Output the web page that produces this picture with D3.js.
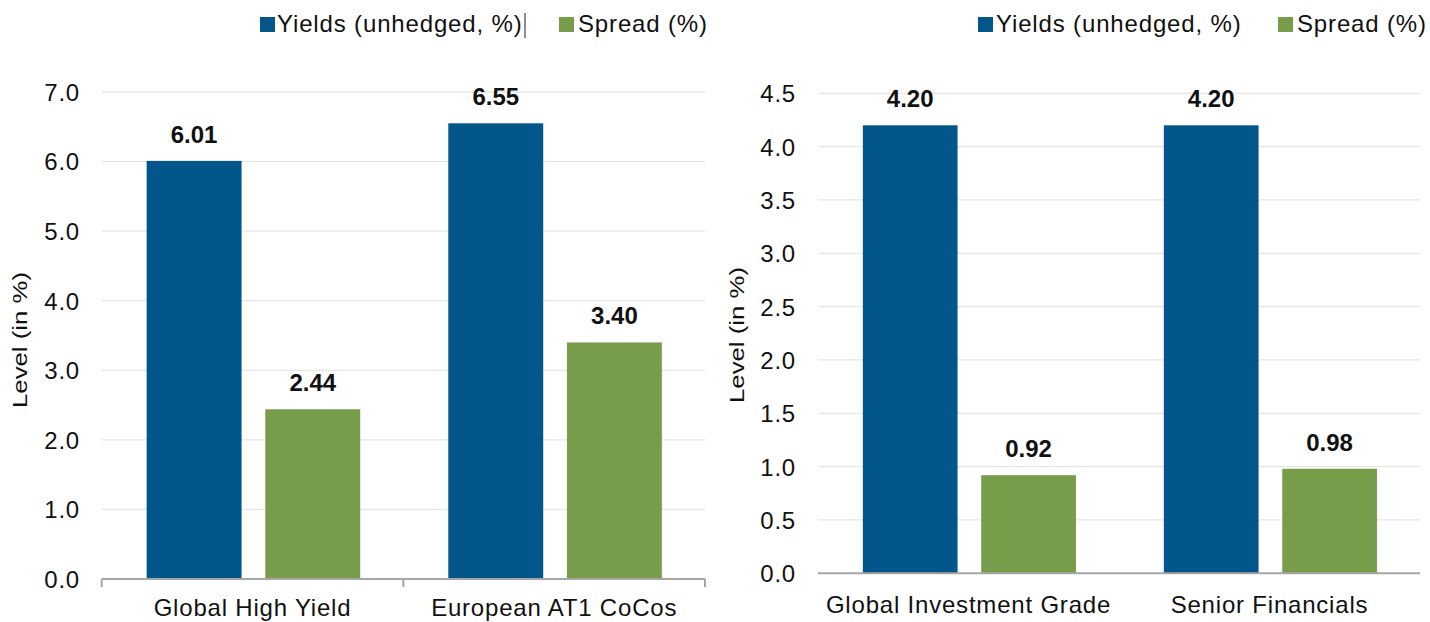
<!DOCTYPE html>
<html><head><meta charset="utf-8">
<script src="https://cdn.jsdelivr.net/npm/d3@7"></script>
<style>
html,body{margin:0;padding:0;background:#fff;}
svg{display:block;font-family:"Liberation Sans",Arial,sans-serif;}
</style></head>
<body>
<svg id="chart" width="1430" height="622"></svg>
<script>
const seriesNames = ["Yields (unhedged, %)", "Spread (%)"];
const seriesColors = ["#02568a", "#789d4a"];

const leftCategories = ["Global High Yield", "European AT1 CoCos"];
const leftYields = [6.01, 6.55];
const leftSpreads = [2.44, 3.40];
const leftTicks = [0, 1, 2, 3, 4, 5, 6, 7];

const rightCategories = ["Global Investment Grade", "Senior Financials"];
const rightYields = [4.20, 4.20];
const rightSpreads = [0.92, 0.98];
const rightTicks = [0, 0.5, 1, 1.5, 2, 2.5, 3, 3.5, 4, 4.5];

const yTitle = "Level (in %)";

const svg = d3.select("#chart");

function drawPanel(cfg) {
  const g = svg.append("g");
  const x0 = d3.scaleBand().domain(cfg.categories).range([cfg.x0, cfg.x1]).padding(0);
  const cw = x0.bandwidth();
  const x1 = d3.scaleBand().domain(seriesNames).range([cw * 0.149, cw * 0.857]).paddingInner(0.2).paddingOuter(0);
  const y = d3.scaleLinear().domain([0, d3.max(cfg.ticks)]).range([cfg.yBase, cfg.yTop]);

  // gridlines
  g.append("g").selectAll("line").data(cfg.ticks.filter(t => t > 0)).join("line")
    .attr("x1", cfg.x0).attr("x2", cfg.x1)
    .attr("y1", d => y(d)).attr("y2", d => y(d))
    .attr("stroke", "#e6e6e6").attr("stroke-width", 1.3);

  // y tick labels
  const yAxis = d3.axisLeft(y).tickValues(cfg.ticks).tickFormat(d3.format(".1f")).tickSize(0).tickPadding(0);
  const ya = g.append("g").attr("transform", `translate(${cfg.labelRight},0)`).call(yAxis);
  ya.select(".domain").remove();
  ya.selectAll("text").attr("font-size", 24).attr("fill", "#111")
    .attr("font-family", "Liberation Sans, Arial, sans-serif")
    .style("letter-spacing", "0.8px").attr("dy", "0.35em");

  // bars
  const data = cfg.categories.map((c, i) => ({cat: c, vals: [cfg.yields[i], cfg.spreads[i]]}));
  const grp = g.append("g").selectAll("g").data(data).join("g")
    .attr("transform", d => `translate(${x0(d.cat)},0)`);
  grp.selectAll("rect").data(d => d.vals.map((v, j) => ({s: seriesNames[j], v, j}))).join("rect")
    .attr("x", d => x1(d.s)).attr("width", x1.bandwidth())
    .attr("y", d => y(d.v)).attr("height", d => y(0) - y(d.v))
    .attr("fill", d => seriesColors[d.j]);
  grp.selectAll("text.val").data(d => d.vals.map((v, j) => ({s: seriesNames[j], v, j}))).join("text")
    .attr("class", "val")
    .attr("x", d => x1(d.s) + x1.bandwidth() / 2).attr("y", d => y(d.v) - 18)
    .attr("text-anchor", "middle").attr("font-size", 24).attr("font-weight", "bold").attr("fill", "#111")
    .text(d => d.v.toFixed(2));

  // x axis
  g.append("line").attr("x1", cfg.x0).attr("x2", cfg.x1).attr("y1", y(0)).attr("y2", y(0))
    .attr("stroke", "#a6a6a6").attr("stroke-width", 2);
  if (cfg.ticksMarks) {
    const bounds = cfg.categories.map(c => x0(c)).concat([cfg.x1]);
    g.append("g").selectAll("line").data(bounds).join("line")
      .attr("x1", d => d).attr("x2", d => d).attr("y1", y(0)).attr("y2", y(0) + 8)
      .attr("stroke", "#a6a6a6").attr("stroke-width", 2);
  }
  g.append("g").selectAll("text").data(cfg.categories).join("text")
    .attr("x", d => x0(d) + cw / 2).attr("y", y(0) + cfg.catOffset)
    .attr("text-anchor", "middle").attr("font-size", 24).attr("fill", "#111")
    .style("letter-spacing", "0.8px").text(d => d);

  // y title
  g.append("text").attr("transform", `translate(${cfg.titleX},${cfg.titleY}) rotate(-90)`)
    .attr("text-anchor", "middle").attr("font-size", 21).attr("fill", "#111")
    .attr("textLength", 136).attr("lengthAdjust", "spacingAndGlyphs")
    .text(yTitle);

  // legend
  const lg = g.append("g");
  cfg.legend.forEach((L, j) => {
    lg.append("rect").attr("x", L.sx).attr("y", 17).attr("width", 15).attr("height", 15).attr("fill", seriesColors[j]);
    lg.append("text").attr("x", L.tx).attr("y", 32).attr("font-size", 24).attr("fill", "#111")
      .style("letter-spacing", "0.85px").text(seriesNames[j]);
  });
  return g;
}

const left = drawPanel({
  categories: leftCategories, yields: leftYields, spreads: leftSpreads, ticks: leftTicks,
  x0: 101.7, x1: 705, yBase: 579, yTop: 92, labelRight: 80,
  ticksMarks: true, catOffset: 37, titleX: 27, titleY: 340,
  legend: [{sx: 260, tx: 277}, {sx: 559, tx: 578}]
});
// thin vertical cursor mark after first legend label
left.append("line").attr("x1", 525).attr("x2", 525).attr("y1", 13).attr("y2", 38)
  .attr("stroke", "#666").attr("stroke-width", 1.5);

drawPanel({
  categories: rightCategories, yields: rightYields, spreads: rightSpreads, ticks: rightTicks,
  x0: 818, x1: 1420, yBase: 573.3, yTop: 93.3, labelRight: 796,
  ticksMarks: false, catOffset: 40, titleX: 744, titleY: 335,
  legend: [{sx: 978, tx: 996}, {sx: 1278, tx: 1297}]
});
</script>
</body></html>
